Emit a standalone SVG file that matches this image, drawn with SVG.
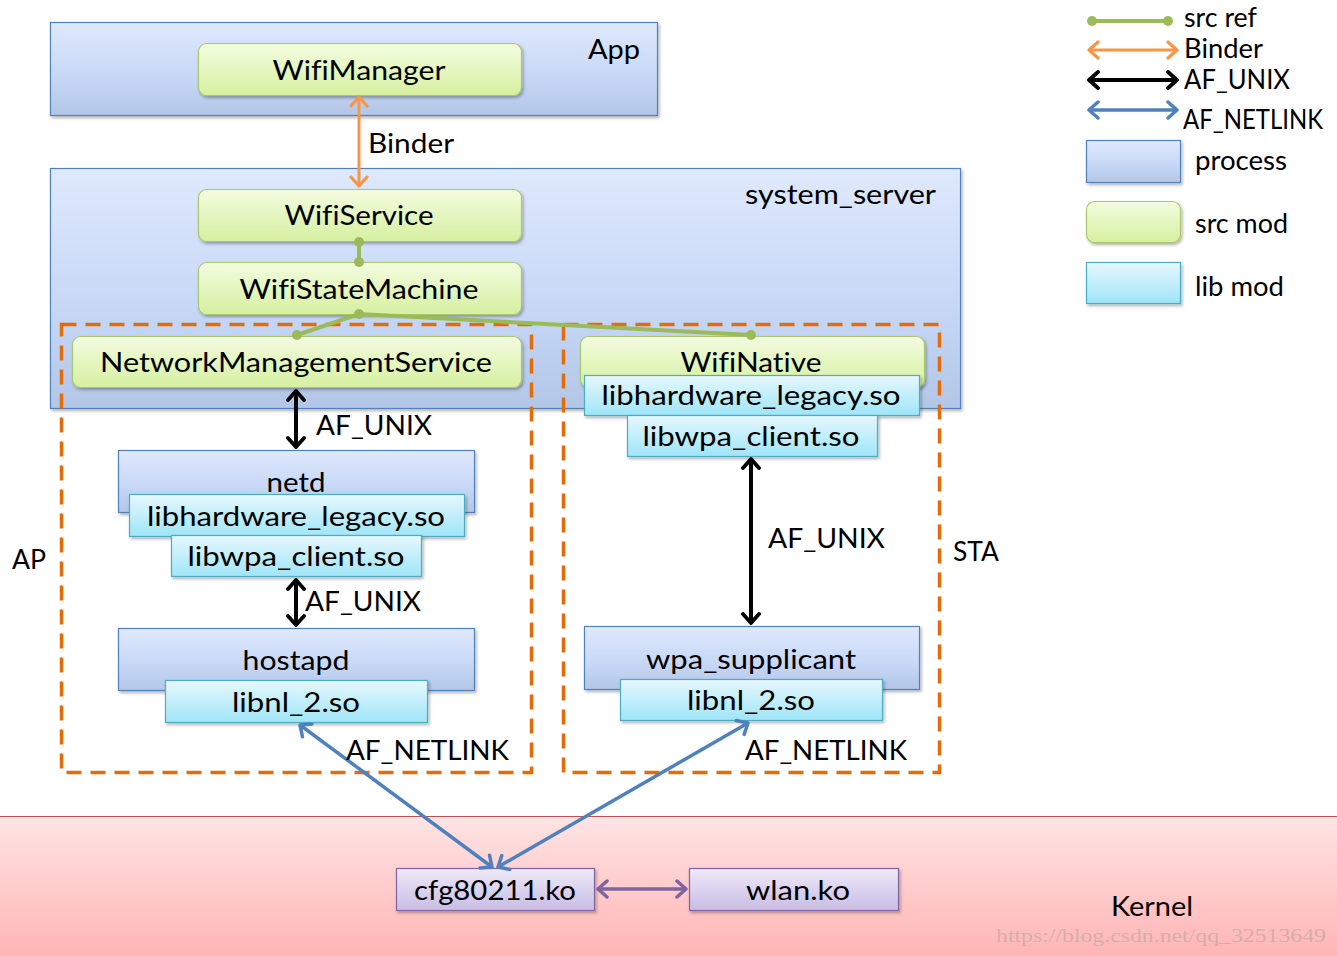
<svg xmlns="http://www.w3.org/2000/svg" width="1337" height="956" viewBox="0 0 1337 956">
<style>
text{font-family:Lato,"Liberation Sans",Arial,sans-serif;fill:#000;font-variant-ligatures:none;font-feature-settings:"liga" 0,"clig" 0;}
.t{font-size:27px;text-anchor:middle;}
.l{font-size:27px;}
.wm{font-family:"Liberation Serif","DejaVu Serif",serif;font-size:18px;fill:#b0a0a0;fill-opacity:0.55;}
.proc{fill:url(#gProc);stroke:#4f81bd;stroke-width:1.2;}
.src{fill:url(#gSrc);stroke:#a9c76e;stroke-width:1.2;}
.lib{fill:url(#gLib);stroke:#4bacc6;stroke-width:1.2;}
.kmod{fill:url(#gPur);stroke:#8064a2;stroke-width:1.2;}
.dash{fill:none;stroke:#e36c09;stroke-width:3.5;stroke-dasharray:15,9;}
.sref{stroke:#9bbb59;stroke-width:4;fill:none;}
.dot{fill:#9bbb59;}
.binder{stroke:#f79646;stroke-width:3;fill:none;marker-start:url(#mO);marker-end:url(#mO);}
.unix{stroke:#000;stroke-width:4;fill:none;marker-start:url(#mK);marker-end:url(#mK);}
.nl{stroke:#4f81bd;stroke-width:3.5;fill:none;marker-start:url(#mB);marker-end:url(#mB);}
.pur{stroke:#8064a2;stroke-width:3.5;fill:none;marker-start:url(#mP);marker-end:url(#mP);}
.sh{filter:url(#shadow);}
</style>
<defs>
<linearGradient id="gProc" x1="0" y1="0" x2="0" y2="1"><stop offset="0" stop-color="#dfe9fc"/><stop offset="0.6" stop-color="#c6d7f6"/><stop offset="1" stop-color="#b3c6e6"/></linearGradient>
<linearGradient id="gSrc" x1="0" y1="0" x2="0" y2="1"><stop offset="0" stop-color="#f3fce0"/><stop offset="1" stop-color="#d6f0a0"/></linearGradient>
<linearGradient id="gLib" x1="0" y1="0" x2="0" y2="1"><stop offset="0" stop-color="#e6f8fd"/><stop offset="1" stop-color="#9fe5f8"/></linearGradient>
<linearGradient id="gPur" x1="0" y1="0" x2="0" y2="1"><stop offset="0" stop-color="#efeaf8"/><stop offset="1" stop-color="#c8bce4"/></linearGradient>
<linearGradient id="gKer" x1="0" y1="0" x2="0" y2="1"><stop offset="0" stop-color="#ffe4e4"/><stop offset="1" stop-color="#ffb5b5"/></linearGradient>
<filter id="shadow" x="-10%" y="-20%" width="120%" height="150%"><feDropShadow dx="1.5" dy="2" stdDeviation="1.5" flood-color="#000" flood-opacity="0.3"/></filter>
<marker id="mO" viewBox="-12 -10 14 20" refX="0" refY="0" markerWidth="14" markerHeight="20" markerUnits="userSpaceOnUse" orient="auto-start-reverse"><path d="M-9,-8 L0,0 L-9,8" fill="none" stroke="#f79646" stroke-width="3.2" stroke-linecap="round" stroke-linejoin="round"/></marker>
<marker id="mK" viewBox="-12 -10 14 20" refX="0" refY="0" markerWidth="14" markerHeight="20" markerUnits="userSpaceOnUse" orient="auto-start-reverse"><path d="M-9,-8 L0,0 L-9,8" fill="none" stroke="#000" stroke-width="3.8" stroke-linecap="round" stroke-linejoin="round"/></marker>
<marker id="mB" viewBox="-12 -10 14 20" refX="0" refY="0" markerWidth="14" markerHeight="20" markerUnits="userSpaceOnUse" orient="auto-start-reverse"><path d="M-9,-8 L0,0 L-9,8" fill="none" stroke="#4f81bd" stroke-width="3.5" stroke-linecap="round" stroke-linejoin="round"/></marker>
<marker id="mP" viewBox="-12 -10 14 20" refX="0" refY="0" markerWidth="14" markerHeight="20" markerUnits="userSpaceOnUse" orient="auto-start-reverse"><path d="M-9,-8 L0,0 L-9,8" fill="none" stroke="#8064a2" stroke-width="3.5" stroke-linecap="round" stroke-linejoin="round"/></marker>
</defs>
<rect width="1337" height="956" fill="#fff"/>

<g id="kernel">
<rect x="0" y="816" width="1337" height="140" fill="url(#gKer)"/>
<line x1="0" y1="816.5" x2="1337" y2="816.5" stroke="#c0504d" stroke-width="1.2"/>
<text class="t" x="1152" y="916" style="font-size:26px" textLength="82" lengthAdjust="spacingAndGlyphs">Kernel</text>
</g>

<g id="app">
<rect class="proc sh" x="50.5" y="22.5" width="607" height="93"/>
<text class="l" x="588" y="59" textLength="52" lengthAdjust="spacingAndGlyphs">App</text>
</g>

<g id="system_server">
<rect class="proc sh" x="50.5" y="168.5" width="910" height="240"/>
<text class="l" x="745" y="204" textLength="191" lengthAdjust="spacingAndGlyphs">system_server</text>
</g>

<g id="ap-group">
<rect class="dash" x="61.5" y="324.5" width="470" height="448"/>
<text class="l" x="12" y="569" textLength="34" lengthAdjust="spacingAndGlyphs">AP</text>
</g>
<g id="sta-group">
<rect class="dash" x="563.5" y="324.5" width="376" height="448"/>
<text class="l" x="953" y="561" textLength="46" lengthAdjust="spacingAndGlyphs">STA</text>
</g>

<g id="WifiManager">
<rect class="src sh" x="198.5" y="43.5" width="323" height="52" rx="8"/>
<text class="t" x="359" y="80" textLength="173" lengthAdjust="spacingAndGlyphs">WifiManager</text>
</g>
<g id="WifiService">
<rect class="src sh" x="198.5" y="189.5" width="323" height="52" rx="8"/>
<text class="t" x="359" y="225" textLength="149" lengthAdjust="spacingAndGlyphs">WifiService</text>
</g>
<g id="WifiStateMachine">
<rect class="src sh" x="198.5" y="262.5" width="323" height="52" rx="8"/>
<text class="t" x="359" y="299" textLength="239" lengthAdjust="spacingAndGlyphs">WifiStateMachine</text>
</g>
<g id="NetworkManagementService">
<rect class="src sh" x="72.5" y="336.5" width="449" height="51" rx="8"/>
<text class="t" x="296" y="372" textLength="392" lengthAdjust="spacingAndGlyphs">NetworkManagementService</text>
</g>
<g id="WifiNative">
<rect class="src sh" x="580.5" y="336.5" width="344" height="51" rx="8"/>
<text class="t" x="751" y="372" textLength="141" lengthAdjust="spacingAndGlyphs">WifiNative</text>
<rect class="lib sh" x="584.5" y="375.5" width="335" height="40"/>
<text class="t" x="751" y="405" textLength="299" lengthAdjust="spacingAndGlyphs">libhardware_legacy.so</text>
<rect class="lib sh" x="627.5" y="415.5" width="250" height="41"/>
<text class="t" x="751" y="446" textLength="217" lengthAdjust="spacingAndGlyphs">libwpa_client.so</text>
</g>

<g id="netd">
<rect class="proc sh" x="118.5" y="450.5" width="356" height="62"/>
<text class="t" x="296" y="492" textLength="59" lengthAdjust="spacingAndGlyphs">netd</text>
<rect class="lib sh" x="129.5" y="494.5" width="335" height="42"/>
<text class="t" x="296" y="526" textLength="298" lengthAdjust="spacingAndGlyphs">libhardware_legacy.so</text>
<rect class="lib sh" x="171.5" y="535.5" width="250" height="41"/>
<text class="t" x="296" y="566" textLength="217" lengthAdjust="spacingAndGlyphs">libwpa_client.so</text>
</g>

<g id="hostapd">
<rect class="proc sh" x="118.5" y="628.5" width="356" height="62"/>
<text class="t" x="296" y="670" textLength="107" lengthAdjust="spacingAndGlyphs">hostapd</text>
<rect class="lib sh" x="165.5" y="680.5" width="262" height="42"/>
<text class="t" x="296" y="712" textLength="128" lengthAdjust="spacingAndGlyphs">libnl_2.so</text>
</g>

<g id="wpa_supplicant">
<rect class="proc sh" x="584.5" y="626.5" width="335" height="63"/>
<text class="t" x="751" y="669" textLength="210" lengthAdjust="spacingAndGlyphs">wpa_supplicant</text>
<rect class="lib sh" x="620.5" y="679.5" width="262" height="41"/>
<text class="t" x="751" y="710" textLength="128" lengthAdjust="spacingAndGlyphs">libnl_2.so</text>
</g>

<g id="cfg80211">
<rect class="kmod sh" x="396.5" y="868.5" width="198" height="42"/>
<text class="t" x="495" y="900" textLength="162" lengthAdjust="spacingAndGlyphs">cfg80211.ko</text>
</g>
<g id="wlan">
<rect class="kmod sh" x="689.5" y="868.5" width="209" height="42"/>
<text class="t" x="798" y="900" textLength="104" lengthAdjust="spacingAndGlyphs">wlan.ko</text>
</g>

<g id="connectors">
<line class="binder" x1="359" y1="97" x2="359" y2="186"/>
<text class="l" x="368" y="153" textLength="86" lengthAdjust="spacingAndGlyphs">Binder</text>
<line class="sref" x1="359" y1="242" x2="359" y2="262"/>
<polyline class="sref" points="297,335 359,314 751,335"/>
<circle class="dot" cx="359" cy="242" r="5"/>
<circle class="dot" cx="359" cy="262" r="5"/>
<circle class="dot" cx="359" cy="314" r="5"/>
<circle class="dot" cx="297" cy="335" r="5"/>
<circle class="dot" cx="751" cy="335" r="5"/>
<line class="unix" x1="296" y1="391" x2="296" y2="447"/>
<text class="l" x="316" y="435" textLength="116" lengthAdjust="spacingAndGlyphs">AF_UNIX</text>
<line class="unix" x1="296" y1="580" x2="296" y2="625"/>
<text class="l" x="305" y="611" textLength="116" lengthAdjust="spacingAndGlyphs">AF_UNIX</text>
<line class="unix" x1="751" y1="459" x2="751" y2="623"/>
<text class="l" x="768" y="548" textLength="117" lengthAdjust="spacingAndGlyphs">AF_UNIX</text>
<line class="nl" x1="300" y1="725" x2="492" y2="867"/>
<text class="l" x="346" y="760" textLength="163" lengthAdjust="spacingAndGlyphs">AF_NETLINK</text>
<line class="nl" x1="748" y1="723" x2="498" y2="867"/>
<text class="l" x="745" y="760" textLength="162" lengthAdjust="spacingAndGlyphs">AF_NETLINK</text>
<line class="pur" x1="598" y1="889" x2="686" y2="889"/>
</g>

<g id="legend">
<line class="sref" x1="1092" y1="21" x2="1168" y2="21"/>
<circle class="dot" cx="1092" cy="21" r="5"/>
<circle class="dot" cx="1168" cy="21" r="5"/>
<text class="l" x="1184" y="27" textLength="73" lengthAdjust="spacingAndGlyphs">src ref</text>
<line class="binder" x1="1089" y1="50" x2="1177" y2="50"/>
<text class="l" x="1184" y="58" textLength="79" lengthAdjust="spacingAndGlyphs">Binder</text>
<line class="unix" x1="1089" y1="80" x2="1177" y2="80"/>
<text class="l" x="1184" y="89" textLength="106" lengthAdjust="spacingAndGlyphs">AF_UNIX</text>
<line class="nl" x1="1089" y1="110" x2="1177" y2="110"/>
<text class="l" x="1183" y="129" style="font-size:26px" textLength="140" lengthAdjust="spacingAndGlyphs">AF_NETLINK</text>
<rect class="proc sh" x="1086.5" y="140.5" width="94" height="42"/>
<text class="l" x="1195" y="170" textLength="92" lengthAdjust="spacingAndGlyphs">process</text>
<rect class="src sh" x="1086.5" y="201.5" width="94" height="41" rx="8"/>
<text class="l" x="1195" y="233" textLength="93" lengthAdjust="spacingAndGlyphs">src mod</text>
<rect class="lib sh" x="1086.5" y="262.5" width="94" height="41"/>
<text class="l" x="1195" y="296" textLength="89" lengthAdjust="spacingAndGlyphs">lib mod</text>
</g>

<text class="wm" x="996" y="942" textLength="330" lengthAdjust="spacingAndGlyphs">https://blog.csdn.net/qq_32513649</text>
</svg>
